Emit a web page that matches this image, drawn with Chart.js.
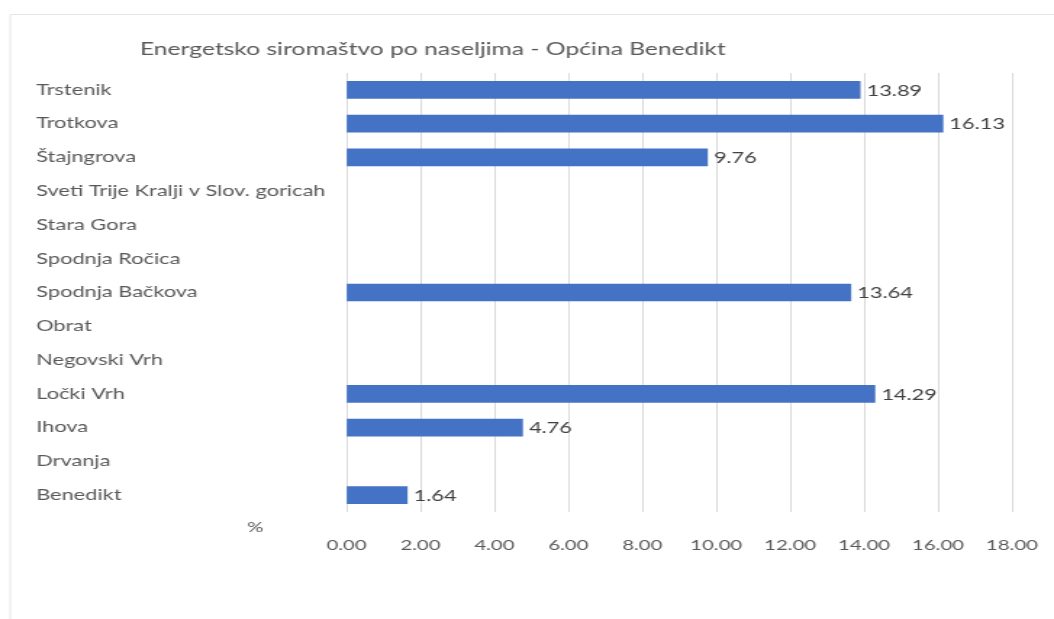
<!DOCTYPE html>
<html>
<head>
<meta charset="utf-8">
<script src="https://cdn.jsdelivr.net/npm/chart.js@4"></script>
<style>
  html, body { margin: 0; padding: 0; background: #ffffff; overflow: hidden; }
  #wrap {
    position: relative;
    width: 727px;
    height: 619px;
    transform: scaleX(1.4498);
    transform-origin: 0 0;
  }
  #c { display: block; }
</style>
</head>
<body>
<div id="wrap"><canvas id="c" width="727" height="619"></canvas></div>
<script>
// Settlements of the municipality, top to bottom
const settlements = [
  'Trstenik', 'Trotkova', 'Štajngrova', 'Sveti Trije Kralji v Slov. goricah',
  'Stara Gora', 'Spodnja Ročica', 'Spodnja Bačkova', 'Obrat', 'Negovski Vrh',
  'Ločki Vrh', 'Ihova', 'Drvanja', 'Benedikt'
];
// Energy poverty share (%); empty where no value is reported
const povertyShare = [13.89, 16.13, 9.76, null, null, null, 13.64, null, null, 14.29, 4.76, null, 1.64];
const axisMin = 0;
const axisMax = 18;
const axisStep = 2;
const chartTitle = 'Energetsko siromaštvo po naseljima - Općina Benedikt';
const unitLabel = '%';

const FONT = 'Lato, "Open Sans", sans-serif';
const TEXT = '#595959';

const decorPlugin = {
  id: 'decor',
  beforeDraw(chart) {
    const ctx = chart.ctx;
    ctx.save();
    // frame lines
    ctx.strokeStyle = '#e6e6e6';
    ctx.lineWidth = 1;
    ctx.beginPath();
    ctx.moveTo(7, 619);
    ctx.lineTo(7, 14.5);
    ctx.lineTo(727, 14.5);
    ctx.stroke();
    ctx.restore();
  },
  afterDraw(chart) {
    const ctx = chart.ctx;
    const area = chart.chartArea;
    ctx.save();
    // title
    ctx.fillStyle = TEXT;
    ctx.font = '17px ' + FONT;
    ctx.textAlign = 'left';
    ctx.textBaseline = 'middle';
    ctx.fillText(chartTitle, 96.5, 50);
    // unit
    ctx.font = '14px ' + FONT;
    ctx.fillText(unitLabel, area.left - 68.5, area.bottom + 15);
    // value labels
    const meta = chart.getDatasetMeta(0);
    ctx.fillStyle = '#404040';
    ctx.font = '15px ' + FONT;
    meta.data.forEach((bar, i) => {
      const v = povertyShare[i];
      if (v === null || v === undefined) return;
      ctx.fillText(v.toFixed(2), bar.x + 4.5, bar.y + 1);
    });
    ctx.restore();
  }
};

new Chart(document.getElementById('c'), {
  type: 'bar',
  data: {
    labels: settlements,
    datasets: [{
      data: povertyShare,
      backgroundColor: '#4472C4',
      borderWidth: 0,
      barThickness: 17
    }]
  },
  options: {
    indexAxis: 'y',
    responsive: false,
    animation: false,
    devicePixelRatio: 1,
    layout: { padding: { top: 73, left: 25, right: 29, bottom: 0 } },
    plugins: {
      legend: { display: false },
      title: { display: false },
      tooltip: { enabled: false }
    },
    scales: {
      x: {
        min: axisMin,
        max: axisMax,
        ticks: {
          stepSize: axisStep,
          padding: 25,
          color: TEXT,
          font: { family: FONT, size: 14 },
          callback: (v) => Number(v).toFixed(2)
        },
        grid: { color: '#d9d9d9', drawTicks: false },
        border: { display: false },
        afterFit(scale) {
          scale.height = 107;
          scale.paddingLeft = 0;
          scale.paddingRight = 0;
        }
      },
      y: {
        ticks: {
          crossAlign: 'far',
          color: TEXT,
          font: { family: FONT, size: 15 },
          padding: 0
        },
        grid: { display: false, drawTicks: false },
        border: { display: false },
        afterFit(scale) { scale.width = 214; }
      }
    }
  },
  plugins: [decorPlugin]
});
</script>
</body>
</html>
